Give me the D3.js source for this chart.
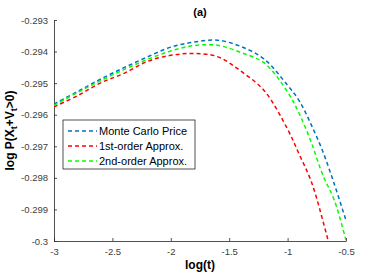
<!DOCTYPE html>
<html>
<head>
<meta charset="utf-8">
<script src="https://cdn.jsdelivr.net/npm/d3@7"></script>
<style>
  body { margin: 0; background: #fff; }
  text { font-family: "Liberation Sans", Arial, sans-serif; }
</style>
</head>
<body>
<script>
// data
var logT = [-3, -2.8, -2.6, -2.4, -2.2, -2, -1.8, -1.6, -1.4, -1.2, -1, -0.9, -0.8, -0.7, -0.6, -0.5];
var monteCarlo = [-0.29566, -0.29527, -0.29487, -0.29451, -0.29417, -0.29386, -0.29370, -0.29364, -0.29384, -0.29424, -0.29507, -0.29556, -0.29630, -0.29715, -0.29820, -0.29935];
var firstOrder = [-0.29575, -0.29540, -0.29499, -0.29469, -0.29431, -0.29412, -0.29406, -0.29416, -0.29462, -0.29524, -0.29646, -0.29726, -0.29809, -0.29933, -0.30080, -0.30250];
var secondOrder = [-0.29570, -0.29530, -0.29492, -0.29457, -0.29425, -0.29398, -0.29381, -0.29380, -0.29403, -0.29436, -0.29528, -0.29597, -0.29685, -0.29790, -0.29871, -0.29998];
var seriesNames = ["Monte Carlo Price", "1st-order Approx.", "2nd-order Approx."];
var seriesColors = ["#0072BD", "#FF0000", "#00FF00"];
var xTicks = [-3, -2.5, -2, -1.5, -1, -0.5];
var yTicks = [-0.3, -0.299, -0.298, -0.297, -0.296, -0.295, -0.294, -0.293];

var W = 382, H = 273;
var margin = {top: 20, right: 36, bottom: 32, left: 54},
    width = W - margin.left - margin.right,
    height = H - margin.top - margin.bottom;

var svg = d3.select("body").append("svg")
    .attr("width", W)
    .attr("height", H);

var g = svg.append("g")
    .attr("transform", "translate(" + margin.left + "," + margin.top + ")");

var x = d3.scaleLinear().domain([-3, -0.5]).range([0, width]);
var y = d3.scaleLinear().domain([-0.3, -0.293]).range([height, 0]);

g.append("clipPath").attr("id", "clip")
  .append("rect").attr("width", width).attr("height", height + 1);

// plain hyphen minus, as in the original
function hy(s) { return s.replace("\u2212", "-"); }

// axes, ticks inward like matlab
var xAxis = g.append("g")
    .attr("transform", "translate(0," + height + ")")
    .call(d3.axisBottom(x).tickValues(xTicks).tickSizeInner(-3).tickSizeOuter(0).tickPadding(7)
      .tickFormat(function(d) { return hy(String(d)); }));
var yAxis = g.append("g")
    .call(d3.axisLeft(y).tickValues(yTicks).tickSizeInner(-3).tickSizeOuter(0).tickPadding(6)
      .tickFormat(function(d) { return d === -0.3 ? "-0.3" : hy(d.toFixed(3)); }));

[xAxis, yAxis].forEach(function(a) {
  a.selectAll("path").attr("stroke", "#262626").attr("stroke-width", 0.8);
  a.selectAll("line").attr("stroke", "#262626").attr("stroke-width", 0.8);
  a.selectAll("text").attr("fill", "#404040").style("font-size", "9.5px")
    .style("font-family", "Liberation Sans, Arial, sans-serif");
});

var line = d3.line()
    .x(function(d) { return x(d[0]); })
    .y(function(d) { return y(d[1]); })
    .curve(d3.curveCatmullRom);

var allSeries = [monteCarlo, firstOrder, secondOrder];
var plot = g.append("g").attr("clip-path", "url(#clip)");
allSeries.forEach(function(s, i) {
  plot.append("path")
    .datum(logT.map(function(t, j) { return [t, s[j]]; }))
    .attr("fill", "none")
    .attr("stroke", seriesColors[i])
    .attr("stroke-width", 1.5)
    .attr("stroke-dasharray", "4,3")
    .attr("d", line);
});

// title and labels
svg.append("text")
    .attr("x", margin.left + width / 2).attr("y", 16)
    .attr("text-anchor", "middle")
    .style("font-size", "11px").style("font-weight", "bold")
    .attr("fill", "#000")
    .text("(a)");

svg.append("text")
    .attr("x", margin.left + width / 2).attr("y", 269)
    .attr("text-anchor", "middle")
    .style("font-size", "12px").style("font-weight", "bold")
    .text("log(t)");

var yl = svg.append("text")
    .attr("transform", "translate(14," + (margin.top + height / 2) + ") rotate(-90)")
    .attr("text-anchor", "middle")
    .style("font-size", "12px").style("font-weight", "bold");
yl.append("tspan").text("log P(X");
yl.append("tspan").attr("dy", 3).style("font-size", "9px").text("t");
yl.append("tspan").attr("dy", -3).text("+V");
yl.append("tspan").attr("dy", 3).style("font-size", "9px").text("t");
yl.append("tspan").attr("dy", -3).text(">0)");

// legend
var legend = svg.append("g").attr("transform", "translate(63,120)");
legend.append("rect")
    .attr("width", 132).attr("height", 49)
    .attr("fill", "#fff").attr("stroke", "#262626").attr("stroke-width", 0.8);
seriesNames.forEach(function(name, i) {
  var ly = 11 + i * 15;
  legend.append("line")
    .attr("x1", 5).attr("x2", 34).attr("y1", ly).attr("y2", ly)
    .attr("stroke", seriesColors[i]).attr("stroke-width", 1.5)
    .attr("stroke-dasharray", "4,3");
  legend.append("text")
    .attr("x", 36).attr("y", ly + 4)
    .style("font-size", "11px").attr("fill", "#000")
    .text(name);
});
</script>
</body>
</html>
